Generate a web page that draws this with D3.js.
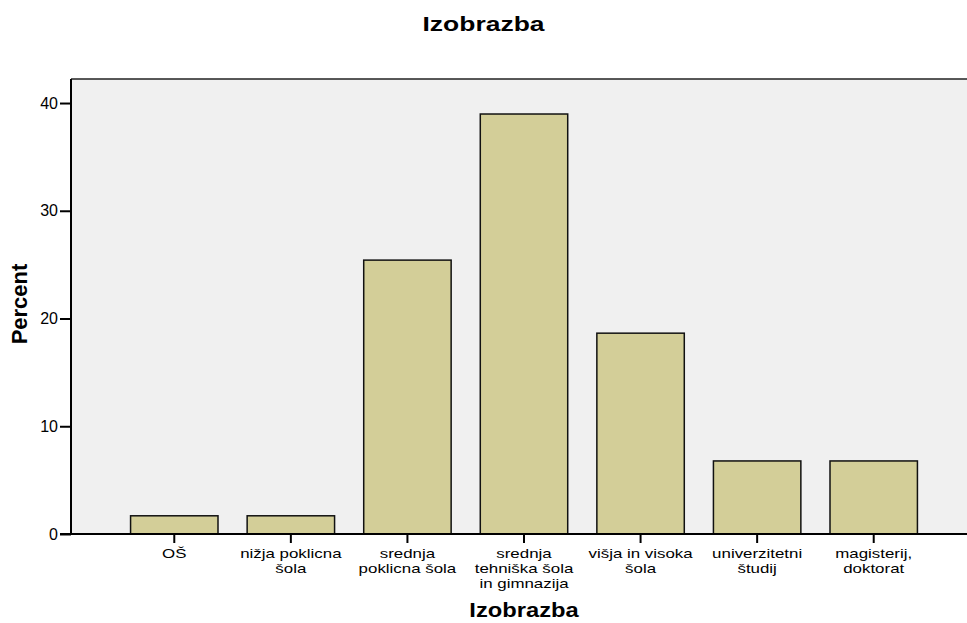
<!DOCTYPE html>
<html>
<head>
<meta charset="utf-8">
<script src="https://cdn.jsdelivr.net/npm/d3@7"></script>
<style>
  body { margin: 0; background: #fff; }
  text { font-family: "Liberation Sans", Arial, sans-serif; }
</style>
</head>
<body>
<div id="chart"></div>
<script>
// Chart data (percent of 59 respondents)
var categories = [
    ["OŠ"],
    ["nižja poklicna", "šola"],
    ["srednja", "poklicna šola"],
    ["srednja", "tehniška šola", "in gimnazija"],
    ["višja in visoka", "šola"],
    ["univerzitetni", "študij"],
    ["magisterij,", "doktorat"]
];
var percents = [1.69, 1.69, 25.42, 38.98, 18.64, 6.78, 6.78];
var yTicks = [0, 10, 20, 30, 40];

// Dimensions
var W = 967, H = 623;
var margin = {top: 79, left: 71, bottom: 89};
var plotRight = 977;   // plot runs past the window edge, as in the original
var h = H - margin.top - margin.bottom;

var svg = d3.select("#chart").append("svg")
    .attr("width", W)
    .attr("height", H);

var x = d3.scaleBand()
    .domain(d3.range(categories.length))
    .range([margin.left + 45, plotRight - 45])
    .paddingInner(0.25)
    .paddingOuter(0.125);

var y = d3.scaleLinear()
    .domain([0, 42.23])
    .range([margin.top + h, margin.top]);

// Plot background
svg.append("rect")
    .attr("x", margin.left)
    .attr("y", margin.top)
    .attr("width", plotRight - margin.left)
    .attr("height", h)
    .attr("fill", "#f0f0f0");

// Top frame line
svg.append("line")
    .attr("x1", margin.left).attr("x2", plotRight)
    .attr("y1", margin.top).attr("y2", margin.top)
    .attr("stroke", "#222").attr("stroke-width", 1.5);

// Bars
svg.selectAll("rect.bar")
    .data(percents)
    .enter().append("rect")
    .attr("class", "bar")
    .attr("x", function(d, i) { return x(i); })
    .attr("y", function(d) { return y(d); })
    .attr("width", x.bandwidth())
    .attr("height", function(d) { return y(0) - y(d); })
    .attr("fill", "#d3ce98")
    .attr("stroke", "#111")
    .attr("stroke-width", 1.5);

// Y axis
var yAxis = svg.append("g")
    .attr("transform", "translate(" + margin.left + ",0)")
    .call(d3.axisLeft(y).tickValues(yTicks).tickSize(11).tickPadding(2).tickFormat(d3.format("d")));
yAxis.select(".domain").remove();
yAxis.selectAll(".tick line").attr("stroke", "#000").attr("stroke-width", 2);
yAxis.selectAll(".tick text").attr("font-size", "16px").attr("fill", "#000")
    .attr("font-family", "Liberation Sans, Arial, sans-serif");
svg.append("line")
    .attr("x1", margin.left).attr("x2", margin.left)
    .attr("y1", margin.top).attr("y2", y(0) + 1)
    .attr("stroke", "#000").attr("stroke-width", 2);

// X axis
var xAxis = svg.append("g")
    .attr("transform", "translate(0," + y(0) + ")")
    .call(d3.axisBottom(x).tickSize(9).tickFormat(""));
xAxis.select(".domain").remove();
xAxis.selectAll(".tick line").attr("stroke", "#000").attr("stroke-width", 2);
svg.append("line")
    .attr("x1", margin.left - 11).attr("x2", plotRight)
    .attr("y1", y(0)).attr("y2", y(0))
    .attr("stroke", "#000").attr("stroke-width", 2);

// Category labels (multi-line, horizontally stretched like the original)
var labels = svg.selectAll("text.cat")
    .data(categories)
    .enter().append("text")
    .attr("class", "cat")
    .attr("text-anchor", "middle")
    .attr("font-size", "13px")
    .attr("fill", "#000")
    .attr("transform", function(d, i) {
        return "translate(" + (x(i) + x.bandwidth() / 2) + "," + (y(0) + 24) + ") scale(1.3,1)";
    });
labels.selectAll("tspan")
    .data(function(d) { return d; })
    .enter().append("tspan")
    .attr("x", 0)
    .attr("dy", function(d, j) { return j === 0 ? 0 : 15; })
    .text(function(d) { return d; });

// Titles
svg.append("text")
    .attr("transform", "translate(" + (W / 2) + ",31) scale(1.26,1)")
    .attr("text-anchor", "middle")
    .attr("font-size", "21px").attr("font-weight", "bold")
    .text("Izobrazba");

svg.append("text")
    .attr("transform", "translate(" + ((margin.left + plotRight) / 2) + ",617) scale(1.13,1)")
    .attr("text-anchor", "middle")
    .attr("font-size", "21px").attr("font-weight", "bold")
    .text("Izobrazba");

svg.append("text")
    .attr("transform", "translate(27,304) rotate(-90)")
    .attr("text-anchor", "middle")
    .attr("font-size", "22px").attr("font-weight", "bold")
    .text("Percent");
</script>
</body>
</html>
